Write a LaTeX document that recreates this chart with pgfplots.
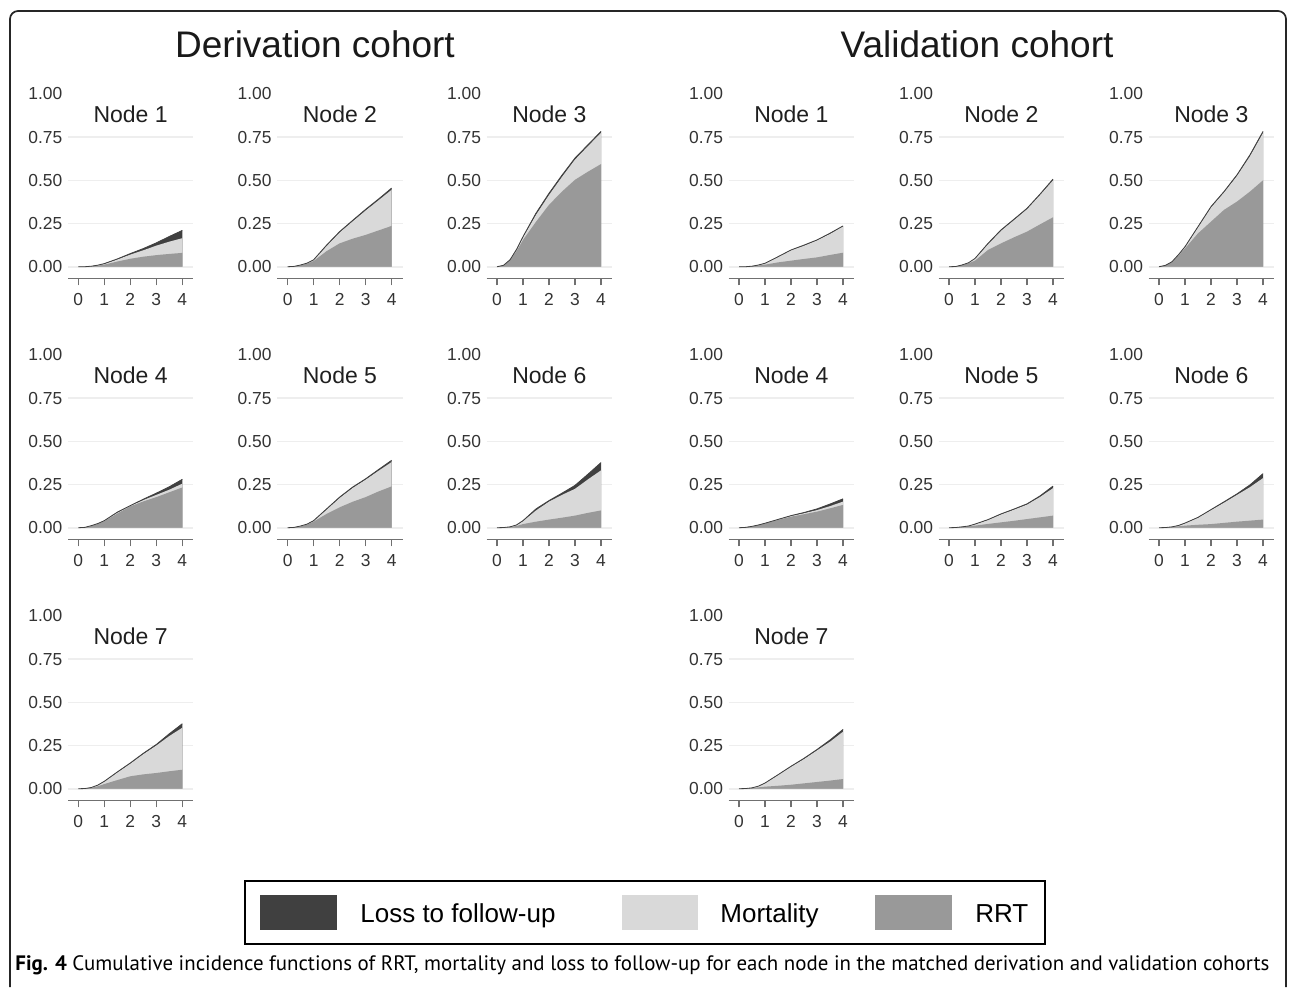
\documentclass[border=0pt]{standalone}
\usepackage{pgfplots}
\pgfplotsset{compat=1.18}
\usepackage{pgfplotstable}
\usepackage{fontspec}
\setmainfont{Liberation Sans}
\newfontfamily\capfont{PT Sans}
\definecolor{lossc}{HTML}{404040}
\definecolor{mortc}{HTML}{D9D9D9}
\definecolor{rrtc}{HTML}{999999}
\definecolor{gridc}{HTML}{EEEEEE}
\definecolor{axc}{HTML}{707070}
\definecolor{tlc}{HTML}{333333}

% columns: t = years, r = RRT, m = RRT+mortality, l = RRT+mortality+loss (stacked tops)
\pgfplotstableread{
t r m l
0 0 0 0
0.25 0 0 0
0.5 0.002 0.003 0.003
0.75 0.006 0.008 0.009
1 0.012 0.016 0.018
1.5 0.030 0.042 0.045
2 0.046 0.070 0.076
2.5 0.058 0.095 0.105
3 0.067 0.122 0.138
3.5 0.074 0.145 0.175
4 0.080 0.165 0.210
}\DnA
\pgfplotstableread{
t r m l
0 0 0 0
0.25 0.002 0.002 0.002
0.5 0.008 0.009 0.010
0.75 0.018 0.020 0.021
1 0.033 0.038 0.040
1.5 0.090 0.120 0.125
2 0.135 0.198 0.203
2.5 0.162 0.262 0.268
3 0.184 0.325 0.332
3.5 0.210 0.385 0.392
4 0.236 0.445 0.455
}\DnB
\pgfplotstableread{
t r m l
0 0 0 0
0.25 0.008 0.008 0.008
0.5 0.040 0.040 0.040
0.75 0.090 0.095 0.100
1 0.155 0.170 0.174
1.5 0.260 0.300 0.310
2 0.358 0.415 0.425
2.5 0.435 0.520 0.530
3 0.503 0.620 0.629
3.5 0.550 0.698 0.706
4 0.594 0.775 0.783
}\DnC
\pgfplotstableread{
t r m l
0 0 0 0
0.25 0.002 0.002 0.002
0.5 0.010 0.011 0.012
0.75 0.022 0.023 0.024
1 0.038 0.040 0.041
1.5 0.082 0.087 0.090
2 0.124 0.127 0.128
2.5 0.152 0.160 0.165
3 0.177 0.190 0.200
3.5 0.205 0.220 0.237
4 0.233 0.255 0.280
}\DnD
\pgfplotstableread{
t r m l
0 0 0 0
0.25 0.002 0.002 0.002
0.5 0.008 0.009 0.010
0.75 0.018 0.020 0.021
1 0.035 0.039 0.041
1.5 0.080 0.105 0.109
2 0.118 0.172 0.177
2.5 0.150 0.230 0.235
3 0.177 0.278 0.283
3.5 0.210 0.330 0.337
4 0.239 0.380 0.390
}\DnE
\pgfplotstableread{
t r m l
0 0 0 0
0.25 0.001 0.001 0.001
0.5 0.004 0.005 0.005
0.75 0.010 0.015 0.016
1 0.021 0.038 0.041
1.5 0.035 0.100 0.109
2 0.047 0.151 0.157
2.5 0.058 0.190 0.200
3 0.070 0.225 0.245
3.5 0.086 0.280 0.310
4 0.100 0.332 0.377
}\DnF
\pgfplotstableread{
t r m l
0 0 0 0
0.25 0.001 0.001 0.001
0.5 0.005 0.006 0.007
0.75 0.014 0.020 0.021
1 0.027 0.041 0.043
1.5 0.050 0.094 0.097
2 0.072 0.145 0.149
2.5 0.083 0.200 0.205
3 0.091 0.250 0.256
3.5 0.101 0.305 0.318
4 0.110 0.353 0.376
}\DnG
\pgfplotstableread{
t r m l
0 0 0 0
0.25 0 0 0
0.5 0.003 0.003 0.003
0.75 0.007 0.009 0.010
1 0.012 0.019 0.020
1.5 0.025 0.056 0.058
2 0.035 0.095 0.097
2.5 0.045 0.122 0.125
3 0.054 0.153 0.155
3.5 0.068 0.190 0.194
4 0.081 0.234 0.236
}\VnA
\pgfplotstableread{
t r m l
0 0 0 0
0.25 0.001 0.001 0.001
0.5 0.010 0.010 0.010
0.75 0.020 0.022 0.023
1 0.035 0.046 0.048
1.5 0.097 0.130 0.135
2 0.135 0.208 0.213
2.5 0.170 0.270 0.275
3 0.203 0.333 0.338
3.5 0.245 0.415 0.420
4 0.286 0.500 0.507
}\VnB
\pgfplotstableread{
t r m l
0 0 0 0
0.25 0.008 0.008 0.008
0.5 0.029 0.029 0.029
0.75 0.065 0.068 0.070
1 0.106 0.113 0.116
1.5 0.193 0.228 0.232
2 0.261 0.343 0.348
2.5 0.329 0.430 0.435
3 0.377 0.526 0.532
3.5 0.435 0.640 0.648
4 0.500 0.775 0.783
}\VnC
\pgfplotstableread{
t r m l
0 0 0 0
0.25 0.002 0.002 0.002
0.5 0.008 0.008 0.008
0.75 0.016 0.016 0.016
1 0.025 0.026 0.026
1.5 0.045 0.047 0.048
2 0.064 0.068 0.070
2.5 0.078 0.084 0.088
3 0.093 0.102 0.109
3.5 0.112 0.125 0.137
4 0.132 0.151 0.167
}\VnD
\pgfplotstableread{
t r m l
0 0 0 0
0.25 0.001 0.001 0.001
0.5 0.005 0.005 0.005
0.75 0.009 0.010 0.010
1 0.012 0.020 0.021
1.5 0.022 0.045 0.047
2 0.031 0.077 0.080
2.5 0.040 0.105 0.108
3 0.050 0.134 0.138
3.5 0.060 0.178 0.184
4 0.070 0.229 0.241
}\VnE
\pgfplotstableread{
t r m l
0 0 0 0
0.25 0.001 0.001 0.001
0.5 0.004 0.005 0.005
0.75 0.008 0.012 0.013
1 0.012 0.026 0.027
1.5 0.017 0.058 0.060
2 0.021 0.102 0.105
2.5 0.028 0.145 0.150
3 0.035 0.190 0.196
3.5 0.041 0.235 0.248
4 0.047 0.287 0.313
}\VnF
\pgfplotstableread{
t r m l
0 0 0 0
0.25 0.001 0.001 0.001
0.5 0.004 0.005 0.005
0.75 0.008 0.015 0.015
1 0.012 0.032 0.033
1.5 0.017 0.079 0.081
2 0.023 0.127 0.130
2.5 0.031 0.172 0.176
3 0.039 0.222 0.227
3.5 0.047 0.272 0.282
4 0.056 0.330 0.343
}\VnG

\pgfplotsset{panel/.style={
  scale only axis, width=62.65pt, height=92.2pt,
  anchor=south west,
  xmin=-0.396, xmax=4.423, ymin=-0.0671, ymax=1,
  axis x line*=bottom, axis y line*=left,
  y axis line style={draw=none},
  x axis line style={axc, line width=0.7pt},
  xtick={0,1,2,3,4},
  ytick={0,0.25,0.5,0.75}, yticklabels={0.00,0.25,0.50,0.75},
  extra y ticks={1}, extra y tick labels={1.00},
  extra y tick style={grid=none, ytick style={draw=none}},
  ymajorgrids, grid style={gridc, line width=0.8pt},
  tick align=outside, major tick length=3.5pt,
  xtick style={axc, line width=0.6pt},
  ytick style={draw=none},
  tick label style={font=\fontsize{8.7}{10}\selectfont, text=tlc},
  /pgf/number format/assume math mode=true,
  xticklabel style={inner sep=0pt, yshift=-4pt},
  yticklabel style={inner sep=0pt, xshift=0.85pt},
}}

\newcommand\panel[4]{%
\begin{axis}[panel, at={(#1,#2)}]
\addplot[fill=lossc, draw=none] table[x=t,y=l]{#4} \closedcycle;
\addplot[fill=mortc, draw=none] table[x=t,y=m]{#4} \closedcycle;
\addplot[fill=rrtc, draw=none] table[x=t,y=r]{#4} \closedcycle;
\addplot[lossc, line width=0.4pt] table[x=t,y=l]{#4};
\node[anchor=base, inner sep=0pt, font=\fontsize{11.5}{13}\selectfont, text=black!88] at (rel axis cs:0.5,0.847) {#3};
\end{axis}}

\begin{document}
\begin{tikzpicture}
\useasboundingbox (0,0) rectangle (645pt,-493.5pt);
% outer frame
\draw[black!85, line width=0.85pt] (5pt,-493.5pt) -- (5pt,-9.5pt) arc[start angle=180, end angle=90, radius=4pt] -- (639pt,-5.5pt) arc[start angle=90, end angle=0, radius=4pt] -- (643pt,-493.5pt);
% headers
\node[anchor=base, inner sep=0pt, font=\fontsize{18.5}{22}\selectfont, text=black!90] at (157.5pt,-28.5pt) {Derivation cohort};
\node[anchor=base, inner sep=0pt, font=\fontsize{18.5}{22}\selectfont, text=black!90] at (488.5pt,-28.5pt) {Validation cohort};
% derivation
\panel{34pt}{-139.15pt}{Node 1}{\DnA}
\panel{138.65pt}{-139.15pt}{Node 2}{\DnB}
\panel{243.35pt}{-139.15pt}{Node 3}{\DnC}
\panel{34pt}{-269.65pt}{Node 4}{\DnD}
\panel{138.65pt}{-269.65pt}{Node 5}{\DnE}
\panel{243.35pt}{-269.65pt}{Node 6}{\DnF}
\panel{34pt}{-400.15pt}{Node 7}{\DnG}
% validation
\panel{364.35pt}{-139.15pt}{Node 1}{\VnA}
\panel{469.35pt}{-139.15pt}{Node 2}{\VnB}
\panel{574.35pt}{-139.15pt}{Node 3}{\VnC}
\panel{364.35pt}{-269.65pt}{Node 4}{\VnD}
\panel{469.35pt}{-269.65pt}{Node 5}{\VnE}
\panel{574.35pt}{-269.65pt}{Node 6}{\VnF}
\panel{364.35pt}{-400.15pt}{Node 7}{\VnG}
% legend
\draw[black, line width=0.75pt] (122.5pt,-440.5pt) rectangle (522.5pt,-472pt);
\fill[lossc] (130pt,-447.5pt) rectangle (168.5pt,-465pt);
\fill[mortc] (311pt,-447.5pt) rectangle (349pt,-465pt);
\fill[rrtc] (437.5pt,-447.5pt) rectangle (476pt,-465pt);
\node[anchor=base west, inner sep=0pt, font=\fontsize{13}{15}\selectfont] at (180pt,-461pt) {Loss to follow-up};
\node[anchor=base west, inner sep=0pt, font=\fontsize{13}{15}\selectfont] at (360pt,-461pt) {Mortality};
\node[anchor=base west, inner sep=0pt, font=\fontsize{13}{15}\selectfont] at (487.5pt,-461pt) {RRT};
% caption
\node[anchor=base west, inner sep=0pt] at (7.5pt,-485pt) {\resizebox{627pt}{!}{\capfont\textbf{Fig. 4} Cumulative incidence functions of RRT, mortality and loss to follow-up for each node in the matched derivation and validation cohorts}};
\end{tikzpicture}
\end{document}
